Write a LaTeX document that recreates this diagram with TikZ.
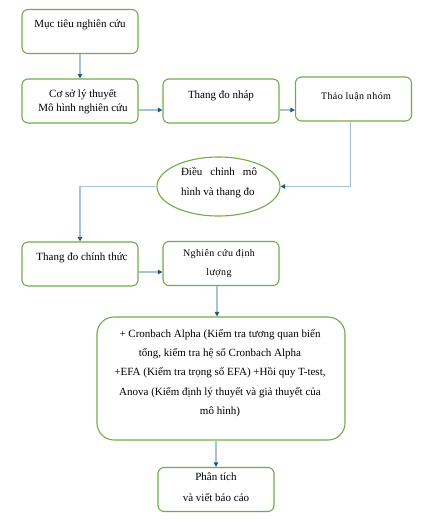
\documentclass[tikz,border=0pt]{standalone}
\usepackage{fontspec}
\setmainfont{Liberation Serif}
\newfontfamily\spacedfont[LetterSpace=4]{Liberation Serif}
\usetikzlibrary{arrows.meta,shapes.geometric}
\definecolor{boxgreen}{HTML}{70AD47}
\definecolor{linecol}{HTML}{A9C3D4}
\definecolor{tipcol}{HTML}{1F5A85}
\begin{document}
\begin{tikzpicture}[x=1pt,y=-1pt,
 box/.style={draw=boxgreen, line width=1.1pt, rounded corners=6pt, minimum width=116pt, minimum height=44pt, inner sep=0pt},
 bigbox/.style={box, rounded corners=17pt, minimum width=248pt, minimum height=123pt},
 oval/.style={draw=boxgreen, line width=1.1pt, ellipse, minimum width=123pt, minimum height=59pt, inner sep=0pt},
 txt/.style={font=\fontsize{11}{14}\selectfont, inner sep=0pt, align=center},
 stxt/.style={font=\spacedfont\fontsize{10}{19}\selectfont, inner sep=0pt, align=center},
 conn/.style={draw=linecol, line width=1.2pt, -{Triangle[length=4.5pt,width=4.5pt,color=tipcol,fill=tipcol]}}]
\useasboundingbox (0,0) rectangle (425,522);
\fill[white] (0,0) rectangle (425,522);
% boxes
\node[box] (b1) at (80,31.5) {};
\node[box] (b2) at (80,101) {};
\node[box] (b3) at (221,101) {};
\node[box] (b4) at (353.5,99) {};
\node[oval] (e) at (218.5,186.5) {};
\node[box] (b5) at (80,264) {};
\node[box] (b6) at (221,263.5) {};
\node[bigbox] (b7) at (221,378.5) {};
\node[box] (b8) at (216,489.5) {};
% texts
\node[txt] (t1) at (80,25) {Mục tiêu nghiên cứu};
\node[txt] (t2) at (83,102) {Cơ sở lý thuyết\\Mô hình nghiên cứu};
\node[txt] (t3) at (221,96) {Thang đo nháp};
\node[stxt] (t4) at (356,97) {Thảo luận nhóm};
\node[inner sep=0pt] (te) at (219,183) {\parbox{76pt}{\fontsize{11}{20}\selectfont\raggedright Điều\hfill chỉnh\hfill mô\\hình và thang đo}};
\node[txt] (t5) at (82,258) {Thang đo chính thức};
\node[stxt] (t6) at (219,263.5) {Nghiên cứu định\\lượng};
\node[txt, font=\fontsize{11}{19.2}\selectfont] (t7) at (220,373) {+ Cronbach Alpha (Kiểm tra tương quan biến\\tổng, kiểm tra hệ số Cronbach Alpha\\+EFA (Kiểm tra trọng số EFA) +Hồi quy T-test,\\Anova (Kiểm định lý thuyết và giả thuyết của\\mô hình)};
\node[txt, font=\fontsize{11}{21}\selectfont] (t8) at (216,487.5) {Phân tích\\và viết báo cáo};
% connectors
\draw[conn] (b1.south) -- (b2.north);
\draw[conn] ([yshift=-9pt]b2.east) -- ([yshift=-9pt]b2.east -| b3.west);
\draw[conn] ([yshift=-9pt]b3.east) -- ([yshift=-9pt]b3.east -| b4.west);
\draw[conn] ([xshift=-3pt]b4.south) |- (e.east);
\draw[conn] (e.west) -| (b5.north);
\draw[conn] ([yshift=-8pt]b5.east) -- ([yshift=-8pt]b5.east -| b6.west);
\draw[conn] ([xshift=-4pt]b6.south) -- ([xshift=-4pt]b6.south |- b7.north);
\draw[conn] (b8.north |- b7.south) -- (b8.north);
\end{tikzpicture}
\end{document}
